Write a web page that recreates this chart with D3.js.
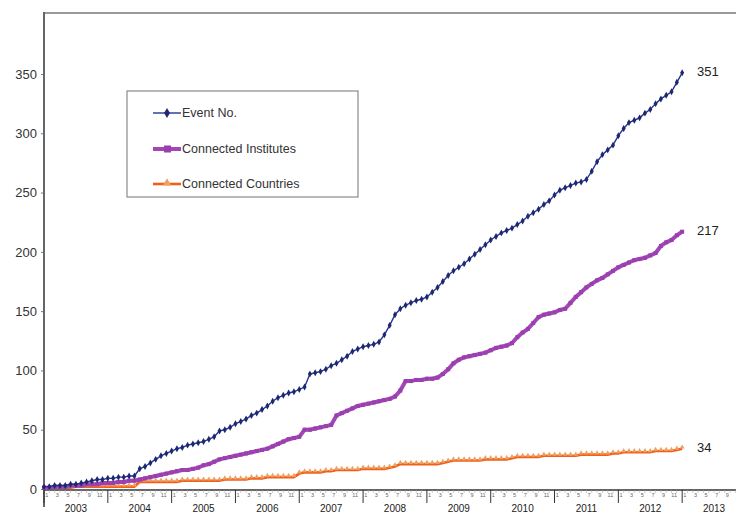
<!DOCTYPE html>
<html><head><meta charset="utf-8">
<script src="https://cdn.jsdelivr.net/npm/d3@7"></script>
<style>body{margin:0;background:#fff}svg{display:block}</style>
</head><body>
<svg id="c" width="736" height="513"></svg>
<script>
// Monthly values, Jan 2003 (index 0) through Jan 2013 (index 120)
const eventNo = [2,2,3,3,3,4,4,5,6,7,8,8,9,9,10,10,11,11,17,19,22,25,28,30,32,34,35,37,38,39,40,42,44,49,50,52,55,57,59,62,64,67,70,74,77,79,81,82,84,86,97,98,99,101,104,106,109,112,116,118,120,121,122,124,130,138,147,152,155,157,159,160,162,166,170,175,180,184,187,190,194,198,202,206,210,213,216,218,220,223,226,230,233,236,240,243,248,252,254,256,258,259,261,268,276,282,286,290,298,304,309,311,313,317,320,325,329,332,335,343,351];
const institutes = [1,1,2,2,2,3,3,3,4,4,4,5,5,5,6,6,7,7,8,9,10,11,12,13,14,15,16,16,17,18,20,21,23,25,26,27,28,29,30,31,32,33,34,36,38,40,42,43,44,50,50,51,52,53,54,62,64,66,68,70,71,72,73,74,75,76,78,83,91,91,92,92,93,93,94,97,101,106,109,111,112,113,114,115,117,119,120,121,123,128,132,135,140,145,147,148,149,151,152,157,162,166,170,173,176,178,181,184,187,189,191,193,194,195,197,199,205,208,210,214,217];
const countries = [1,1,1,1,1,1,2,2,2,2,2,2,2,2,2,2,2,2,6,6,6,6,6,6,6,6,7,7,7,7,7,7,7,7,8,8,8,8,8,9,9,9,10,10,10,10,10,10,13,14,14,14,14,15,15,16,16,16,16,16,17,17,17,17,17,18,19,21,21,21,21,21,21,21,21,22,23,24,24,24,24,24,24,25,25,25,25,25,26,27,27,27,27,27,28,28,28,28,28,28,28,29,29,29,29,29,29,30,30,31,31,31,31,31,31,32,32,32,32,33,34];
const years = ["2003","2004","2005","2006","2007","2008","2009","2010","2011","2012","2013"];
const monthLabels = ["1","3","5","7","9","11"];
const yTicks = [0,50,100,150,200,250,300,350];
const seriesNames = ["Event No.","Connected Institutes","Connected Countries"];

const svg = d3.select("#c");
const x = d3.scaleLinear().domain([0, 132]).range([44, 44 + 132 * 5.318]);
const y = d3.scaleLinear().domain([0, 350]).range([489, 74]);
const FONT = "Liberation Sans, Arial, sans-serif";

// top frame line
svg.append("line").attr("x1",44).attr("x2",736).attr("y1",13).attr("y2",13)
  .attr("stroke","#9a9a9a").attr("stroke-width",2);

// y axis
const ya = svg.append("g").attr("transform","translate(44,0)")
  .call(d3.axisLeft(y).tickValues(yTicks).tickSize(3).tickPadding(4));
ya.select(".domain").remove();
ya.selectAll("line").attr("stroke","#777");
ya.selectAll("text").attr("font-family",FONT).attr("font-size","13px").attr("fill","#333");
svg.append("line").attr("x1",44).attr("x2",44).attr("y1",12).attr("y2",507)
  .attr("stroke","#666").attr("stroke-width",2);

// x axis
svg.append("line").attr("x1",44).attr("x2",736).attr("y1",490).attr("y2",490)
  .attr("stroke","#333").attr("stroke-width",1.5);
const months = d3.range(0, 132);
svg.append("g").selectAll("line").data(months.filter(m => m % 12 !== 0)).join("line")
  .attr("x1", m => x(m)).attr("x2", m => x(m)).attr("y1",490).attr("y2",493)
  .attr("stroke","#aaa").attr("stroke-width",0.6);
svg.append("g").selectAll("line").data(years).join("line")
  .attr("x1",(d,i)=>x(i*12)).attr("x2",(d,i)=>x(i*12)).attr("y1",490).attr("y2",503)
  .attr("stroke","#333").attr("stroke-width",1);
const ml = [];
years.forEach((yr, i) => monthLabels.forEach((m, j) => ml.push({t:m, v:i*12 + j*2 + 0.5})));
svg.append("g").selectAll("text").data(ml.filter(d => x(d.v) < 729)).join("text")
  .attr("x", d => x(d.v)).attr("y", 497).attr("text-anchor","middle")
  .attr("font-family",FONT).attr("font-size","5.5px")
  .attr("fill","#666").text(d => d.t);
svg.append("g").selectAll("text").data(years).join("text")
  .attr("x",(d,i)=>x(i*12+6)).attr("y",512).attr("text-anchor","middle")
  .attr("font-family",FONT).attr("font-size","10px")
  .attr("fill","#222").text(d => d);

const line = d3.line().x((d,i)=>x(i)).y(d=>y(d));

// Countries
svg.append("path").datum(countries).attr("d",line).attr("fill","none")
  .attr("stroke","#f0601a").attr("stroke-width",2.6);
const tri = d3.symbol().type(d3.symbolTriangle).size(10);
svg.append("g").selectAll("path").data(countries).join("path")
  .attr("d",tri).attr("transform",(d,i)=>`translate(${x(i)},${y(d)-1.5})`)
  .attr("fill","#eea060");

// Institutes
svg.append("path").datum(institutes).attr("d",line).attr("fill","none")
  .attr("stroke","#a347b6").attr("stroke-width",4);
svg.append("g").selectAll("rect").data(institutes).join("rect")
  .attr("x",(d,i)=>x(i)-2).attr("y",d=>y(d)-2).attr("width",4).attr("height",4)
  .attr("fill","#9a3fae");

// Event No.
svg.append("path").datum(eventNo).attr("d",line).attr("fill","none")
  .attr("stroke","#26348a").attr("stroke-width",1.4);
const dia = d3.symbol().type(d3.symbolDiamond).size(14);
svg.append("g").selectAll("path").data(eventNo).join("path")
  .attr("d",dia).attr("transform",(d,i)=>`translate(${x(i)},${y(d)})`)
  .attr("fill","#1c2872");

// end labels
const ends = [eventNo, institutes, countries];
svg.append("g").selectAll("text").data(ends).join("text")
  .attr("x",697).attr("y",d=>y(d[d.length-1])+3)
  .attr("font-family",FONT).attr("font-size","13px")
  .attr("fill","#222").text(d => d[d.length-1]);

// legend
const lg = svg.append("g");
lg.append("rect").attr("x",127).attr("y",91).attr("width",231).attr("height",106)
  .attr("fill","#fff").attr("stroke","#8a8a8a").attr("stroke-width",1.2);
const ly = [113,149,184];
const lc = ["#26348a","#a347b6","#f0601a"];
seriesNames.forEach((n,i)=>{
  lg.append("line").attr("x1",153).attr("x2",181).attr("y1",ly[i]).attr("y2",ly[i])
    .attr("stroke",lc[i]).attr("stroke-width",i===1?4:(i===2?2.6:1.4));
  if(i===0) lg.append("path").attr("d",d3.symbol().type(d3.symbolDiamond).size(30)())
    .attr("transform",`translate(167,${ly[i]})`).attr("fill","#1c2872");
  if(i===1) lg.append("rect").attr("x",164).attr("y",ly[i]-3.5).attr("width",7).attr("height",7).attr("fill","#9a3fae");
  if(i===2) lg.append("path").attr("d",d3.symbol().type(d3.symbolTriangle).size(30)())
    .attr("transform",`translate(167,${ly[i]-1})`).attr("fill","#eea060");
  lg.append("text").attr("x",182).attr("y",ly[i]+4)
    .attr("font-family",FONT).attr("font-size","12.5px")
    .attr("fill","#333").text(n);
});
</script>
</body></html>
